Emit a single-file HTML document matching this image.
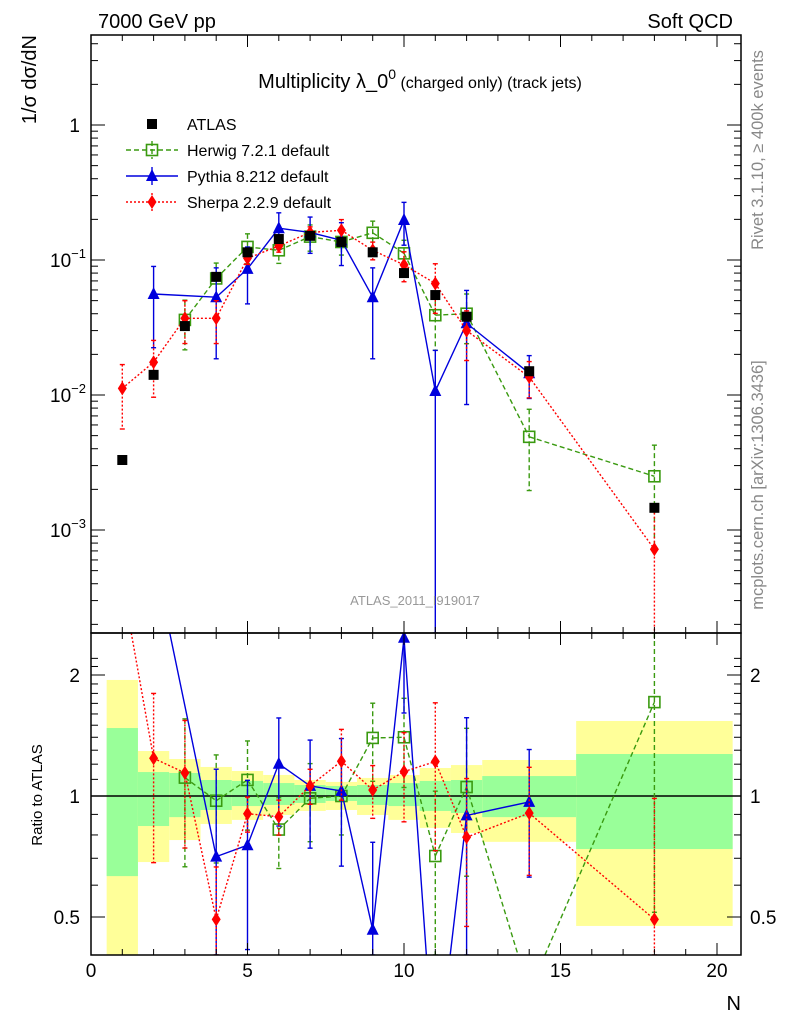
<!DOCTYPE html>
<html><head><meta charset="utf-8"><style>
html,body{margin:0;padding:0;background:#fff;width:786px;height:1024px;overflow:hidden;}
svg{display:block;font-family:"Liberation Sans",sans-serif;}
</style></head><body>
<svg id="c" width="786" height="1024" xmlns="http://www.w3.org/2000/svg">
<defs>
<clipPath id="cm"><rect x="91" y="35" width="650" height="598"/></clipPath>
<clipPath id="cr"><rect x="91" y="633" width="650" height="322"/></clipPath>
</defs>
<g id="bands" clip-path="url(#cr)"></g>
<g id="main" clip-path="url(#cm)"></g>
<g id="ratio" clip-path="url(#cr)"></g>
<g id="axes"></g>
<text x="98" y="28" font-size="20">7000 GeV pp</text>
<text x="733" y="28" font-size="20" text-anchor="end">Soft QCD</text>
<text x="420" y="88" font-size="20" text-anchor="middle">Multiplicity λ_0<tspan font-size="14" dy="-9">0</tspan><tspan font-size="16" dy="9"> (charged only) (track jets)</tspan></text>
<text transform="translate(36,35) rotate(-90)" font-size="20" text-anchor="end">1/σ dσ/dN</text>
<text transform="translate(42,795) rotate(-90)" font-size="15" text-anchor="middle">Ratio to ATLAS</text>
<text x="741" y="1010" font-size="20" text-anchor="end">N</text>
<text transform="translate(763,150) rotate(-90)" font-size="16.5" fill="#888" text-anchor="middle">Rivet 3.1.10, ≥ 400k events</text>
<text transform="translate(763,485) rotate(-90)" font-size="16.5" fill="#888" text-anchor="middle">mcplots.cern.ch [arXiv:1306.3436]</text>
<text x="415" y="605" font-size="13" fill="#999" text-anchor="middle">ATLAS_2011_I919017</text>
<g id="legend"></g>
</svg>
<script>
const atlasN=[1,2,3,4,5,6,7,8,9,10,11,12,14,18];
const atlasV=[0.0033,0.0141,0.0324,0.075,0.114,0.143,0.151,0.136,0.114,0.080,0.055,0.038,0.015,0.00146];
const atlasE=[0.03,0.03,0.03,0.03,0.03,0.03,0.03,0.03,0.03,0.03,0.03,0.03,0.03,0.03];
const herwigN=[3,4,5,6,7,8,9,10,11,12,14,18];
const herwigV=[0.036,0.073,0.125,0.118,0.149,0.136,0.159,0.112,0.039,0.040,0.0049,0.0025];
const herwigE=[0.4,0.3,0.25,0.2,0.22,0.2,0.22,0.25,0.45,0.4,0.6,0.7];
const pythiaN=[2,4,5,6,7,8,9,10,11,12,14];
const pythiaV=[0.056,0.053,0.086,0.172,0.16,0.14,0.053,0.198,0.0107,0.034,0.0145];
const pythiaE=[0.6,0.65,0.45,0.3,0.3,0.35,0.65,0.35,1.0,0.75,0.35];
const sherpaN=[1,2,3,4,5,6,7,8,9,10,11,12,14,18];
const sherpaV=[0.0112,0.0175,0.037,0.037,0.103,0.127,0.16,0.166,0.118,0.092,0.067,0.030,0.0136,0.00072];
const sherpaE=[0.5,0.45,0.35,0.35,0.1,0.1,0.1,0.2,0.15,0.25,0.4,0.4,0.3,1.0];
const bandLo=[0.5,1.5,2.5,3.5,4.5,5.5,6.5,7.5,8.5,9.5,10.5,11.5,12.5,15.5];
const bandHi=[1.5,2.5,3.5,4.5,5.5,6.5,7.5,8.5,9.5,10.5,11.5,12.5,15.5,20.5];
const yellowUp=[1.944,1.294,1.236,1.181,1.154,1.128,1.096,1.084,1.109,1.128,1.174,1.194,1.229,1.537];
const yellowDn=[0.3,0.685,0.777,0.852,0.872,0.897,0.918,0.923,0.897,0.872,0.833,0.809,0.769,0.475];
const greenUp=[1.476,1.147,1.141,1.096,1.090,1.077,1.065,1.059,1.065,1.077,1.09,1.096,1.121,1.272];
const greenDn=[0.632,0.842,0.886,0.923,0.944,0.95,0.961,0.972,0.95,0.944,0.918,0.907,0.886,0.738];
const xTicks=[0,5,10,15,20];

const NS="http://www.w3.org/2000/svg";
const X=n=>91+n*31.3;
const Y=v=>125-135*Math.log10(v);
const R=r=>796-121*Math.log2(r);
const cl=(v,a,b)=>Math.max(a,Math.min(b,v));
function el(tag,attrs,parent){const e=document.createElementNS(NS,tag);for(const k in attrs)e.setAttribute(k,attrs[k]);parent.appendChild(e);return e;}
const gMain=document.getElementById('main'),gRatio=document.getElementById('ratio'),gBands=document.getElementById('bands'),gAx=document.getElementById('axes'),gLeg=document.getElementById('legend');

for(let i=0;i<bandLo.length;i++){
  const yt=cl(R(yellowUp[i]),633,955),yb=cl(R(yellowDn[i]),633,955);
  const y1=el('rect',{x:X(bandLo[i]),width:X(bandHi[i])-X(bandLo[i]),y:yt,height:yb-yt,fill:'#ffff99'},gBands);
  
  
  const gt=cl(R(greenUp[i]),633,955),gb=cl(R(greenDn[i]),633,955);
  const g1=el('rect',{x:X(bandLo[i]),width:X(bandHi[i])-X(bandLo[i]),y:gt,height:gb-gt,fill:'#99ff99'},gBands);
  
  
}
el('line',{x1:91,x2:741,y1:R(1),y2:R(1),stroke:'#000','stroke-width':1.5},gBands);

function marker(type,x,y,color,g){
  let m;
  if(type==='sq') m=el('rect',{x:x-5,y:y-5,width:10,height:10,fill:'#000'},g);
  else if(type==='osq') m=el('rect',{x:x-5.5,y:y-5.5,width:11,height:11,fill:'none',stroke:color,'stroke-width':1.6},g);
  else if(type==='tri') m=el('polygon',{points:`${x},${y-7} ${x-6},${y+5} ${x+6},${y+5}`,fill:color},g);
  else m=el('polygon',{points:`${x},${y-7} ${x-4.5},${y} ${x},${y+7} ${x+4.5},${y}`,fill:color},g);
  return m;
}
// clip a polyline's points vertically to [a,b] by segment interpolation
function clipPts(pts,a,b){
  const out=[];
  for(let i=0;i<pts.length-1;i++){
    let [x1,y1]=pts[i],[x2,y2]=pts[i+1];
    let t0=0,t1=1;const dy=y2-y1;
    if(dy!==0){
      const ta=(a-y1)/dy,tb=(b-y1)/dy;
      const lo=Math.min(ta,tb),hi=Math.max(ta,tb);
      t0=Math.max(t0,lo);t1=Math.min(t1,hi);
    }else if(y1<a||y1>b){continue;}
    if(t0>t1)continue;
    out.push([[x1+(x2-x1)*t0,y1+dy*t0],[x1+(x2-x1)*t1,y1+dy*t1]]);
  }
  return out;
}
function series(name,Ns,Vs,Es,color,dash,type){
  const pts=Ns.map((n,i)=>[X(n),Y(Vs[i])]);
  if(name!=='atlas'){
    const segs=clipPts(pts,35,633);
    const d=segs.map(s=>`M${s[0][0]},${s[0][1]}L${s[1][0]},${s[1][1]}`).join('');
    const l=el('path',{d:d,fill:'none',stroke:color,'stroke-width':1.4,'stroke-dasharray':dash},gMain);
    
    
  }
  Ns.forEach((n,i)=>{
    const v=Vs[i],e=Es[i];
    const up=cl(Y(v*(1+e)),35,633),dn=e>=1?633:cl(Y(v*(1-e)),35,633);
    el('line',{x1:X(n),x2:X(n),y1:up,y2:dn,stroke:color,'stroke-width':1.4,'stroke-dasharray':dash},gMain);
    el('line',{x1:X(n)-2.5,x2:X(n)+2.5,y1:up,y2:up,stroke:color,'stroke-width':1.4},gMain);
    el('line',{x1:X(n)-2.5,x2:X(n)+2.5,y1:dn,y2:dn,stroke:color,'stroke-width':1.4},gMain);
    const m=marker(type,X(n),Y(v),color,gMain);
    
    
  });
  if(name==='atlas') return;
  const rp=[];
  Ns.forEach((n,i)=>{const k=atlasN.indexOf(n);if(k>=0)rp.push([n,Vs[i]/atlasV[k],Es[i]]);});
  const segs=clipPts(rp.map(p=>[X(p[0]),R(p[1])]),633,955);
  const d=segs.map(s=>`M${s[0][0]},${s[0][1]}L${s[1][0]},${s[1][1]}`).join('');
  const rl=el('path',{d:d,fill:'none',stroke:color,'stroke-width':1.4,'stroke-dasharray':dash},gRatio);
  
  
  rp.forEach(p=>{
    const [n,r,e]=p;const cy=R(r);
    if(cy<633-10||cy>955+10){return;}
    const up=cl(R(r*(1+e)),633,955),dn=e>=1?955:cl(R(r*(1-e)),633,955);
    el('line',{x1:X(n),x2:X(n),y1:up,y2:dn,stroke:color,'stroke-width':1.4,'stroke-dasharray':dash},gRatio);
    el('line',{x1:X(n)-2.5,x2:X(n)+2.5,y1:up,y2:up,stroke:color,'stroke-width':1.4},gRatio);
    el('line',{x1:X(n)-2.5,x2:X(n)+2.5,y1:dn,y2:dn,stroke:color,'stroke-width':1.4},gRatio);
    const m=marker(type,X(n),cy,color,gRatio);
    
    
  });
}
series('herwig',herwigN,herwigV,herwigE,'#3a9a10','5,3','osq');
series('pythia',pythiaN,pythiaV,pythiaE,'#0000dd','','tri');
series('sherpa',sherpaN,sherpaV,sherpaE,'#ff0000','2,2','dia');
series('atlas',atlasN,atlasV,atlasE,'#000','','sq');

el('rect',{x:91,y:35,width:650,height:598,fill:'none',stroke:'#000','stroke-width':1.5},gAx);
el('rect',{x:91,y:633,width:650,height:322,fill:'none',stroke:'#000','stroke-width':1.5},gAx);
for(let n=0;n<=20.6;n+=1){
  const big=n%5===0,L=big?12:6,x=X(n);
  [[35,1],[633,-1],[633,1],[955,-1]].forEach(([y,d])=>el('line',{x1:x,x2:x,y1:y,y2:y+d*L,stroke:'#000','stroke-width':1},gAx));
}
xTicks.forEach(t=>{const tx=el('text',{x:X(t),y:977,'font-size':19,'text-anchor':'middle'},gAx);tx.textContent=t;

});
for(let d=-4;d<=0;d++){for(let m=1;m<10;m++){const v=m*Math.pow(10,d);const y=Y(v);if(y<35||y>633)continue;const L=m===1?14:7;
el('line',{x1:91,x2:91+L,y1:y,y2:y,stroke:'#000'},gAx);el('line',{x1:741,x2:741-L,y1:y,y2:y,stroke:'#000'},gAx);}}
const yl=[[0,'1'],[-1,'10'],[-2,'10'],[-3,'10']];
yl.forEach(([d,s])=>{const t=el('text',{x:d===0?80:50,y:Y(Math.pow(10,d))+7,'font-size':19,'text-anchor':d===0?'end':'start'},gAx);t.textContent=s;
if(d<0){const sp=el('tspan',{'font-size':13,dy:-9},t);sp.textContent='−'+(-d);}

});
[0.5,0.6,0.7,0.8,0.9,1,1.1,1.2,1.3,1.4,1.5,1.6,1.7,1.8,1.9,2,2.1,2.2].forEach(r=>{const y=R(r);const big=(r===0.5||r===1||r===2);const L=big?14:7;
el('line',{x1:91,x2:91+L,y1:y,y2:y,stroke:'#000'},gAx);el('line',{x1:741,x2:741-L,y1:y,y2:y,stroke:'#000'},gAx);});
[[2,'2'],[1,'1'],[0.5,'0.5']].forEach(([r,s])=>{
 const a=el('text',{x:80,y:R(r)+7,'font-size':19,'text-anchor':'end'},gAx);a.textContent=s;
 
 
 const b=el('text',{x:750,y:R(r)+7,'font-size':19},gAx);b.textContent=s;
 
 });
const leg=[['ATLAS','#000','','sq'],['Herwig 7.2.1 default','#3a9a10','5,3','osq'],['Pythia 8.212 default','#0000dd','','tri'],['Sherpa 2.2.9 default','#ff0000','2,2','dia']];
leg.forEach((l,i)=>{const y=124+i*26;const g=el('g',{},gLeg);


if(i>0){el('line',{x1:126,x2:178,y1:y,y2:y,stroke:l[1],'stroke-width':1.4,'stroke-dasharray':l[2]},g);
el('line',{x1:152,x2:152,y1:y-9,y2:y+9,stroke:l[1],'stroke-width':1.4,'stroke-dasharray':l[2]},g);}
marker(l[3],152,y,l[1],g);
const t=el('text',{x:187,y:y+6,'font-size':16},g);t.textContent=l[0];});
</script>
</body></html>
